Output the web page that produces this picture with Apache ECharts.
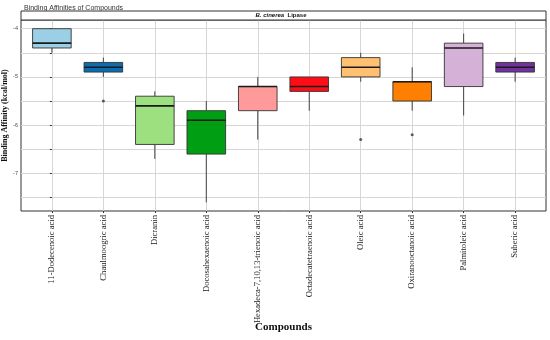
<!DOCTYPE html>
<html><head><meta charset="utf-8">
<script src="https://cdn.jsdelivr.net/npm/echarts@6/dist/echarts.min.js"></script>
<style>html,body{margin:0;padding:0;background:#fff}#c{width:550px;height:340px}</style>
</head><body><div id="c"></div>
<script>
const categories = ['11-Dodecenoic acid','Chaulmoogric acid','Dicranin','Docosahexaenoic acid','Hexadeca-7,10,13-trienoic acid','Octadecatetraenoic acid','Oleic acid','Oxiranooctanoic acid','Palmitoleic acid','Suberic acid'];
const lowerWhisker = [-4.5,-5.0,-6.7,-7.6,-6.3,-5.7,-5.1,-5.7,-5.8,-5.1];
const q1 =           [-4.4,-4.9,-6.4,-6.6,-5.7,-5.3,-5.0,-5.5,-5.2,-4.9];
const median =       [-4.3,-4.8,-5.6,-5.9,-5.2,-5.2,-4.8,-5.1,-4.4,-4.8];
const q3 =           [-4.0,-4.7,-5.4,-5.7,-5.2,-5.0,-4.6,-5.1,-4.3,-4.7];
const upperWhisker = [-4.0,-4.6,-5.3,-5.5,-5.0,-5.0,-4.5,-4.8,-4.1,-4.6];
const outlierCategory = ['Chaulmoogric acid','Oleic acid','Oxiranooctanoic acid'];
const outlierValue = [-5.5,-6.3,-6.2];
const fillColors = ['#9ACFE6','#0B6DB0','#9DE07F','#009E12','#FF9A9A','#FF0D17','#FFC171','#FF8000','#D5B1D8','#7331A0'];
const yTickLabels = [-7,-6,-5,-4];
const yGridValues = [-7.5,-7,-6.5,-6,-5.5,-5,-4.5,-4];

const xPositions = categories.map((c, i) => i);
const boxData = categories.map((c, i) => [i, lowerWhisker[i], q1[i], median[i], q3[i], upperWhisker[i]]);
const outlierData = outlierCategory.map((c, k) => [categories.indexOf(c), outlierValue[k]]);

const chart = echarts.init(document.getElementById('c'), null, {renderer: 'canvas'});
chart.setOption({
  animation: false,
  backgroundColor: '#ffffff',
  title: {
    text: 'Binding Affinities of Compounds', left: 19, top: 0,
    textStyle: {fontSize: 7, fontWeight: 'normal', fontFamily: 'Liberation Sans', color: '#333'}
  },
  grid: {left: 21, right: 4, top: 20, bottom: 129, show: true, borderColor: '#333', borderWidth: 1, backgroundColor: '#fff',
    containLabel: false, outerBoundsMode: 'none'},
  xAxis: {
    type: 'value', min: -0.6, max: 9.6,
    name: 'Compounds', nameLocation: 'middle', nameGap: 111, nameMoveOverlap: false,
    nameTextStyle: {fontFamily: 'Liberation Serif', fontWeight: 'bold', fontSize: 11, color: '#111'},
    axisLine: {show: false},
    axisTick: {show: true, customValues: xPositions, length: 2, lineStyle: {color: '#333'}},
    axisLabel: {customValues: xPositions, rotate: 90, margin: 4, fontFamily: 'Liberation Serif', fontSize: 8.6, color: '#1a1a1a',
      formatter: v => categories[Math.round(v)]},
    splitLine: {show: true, lineStyle: {color: '#d6d6d6', width: 1}}
  },
  yAxis: {
    type: 'value', min: -7.78, max: -3.82,
    name: 'Binding Affinity (kcal/mol)', nameLocation: 'middle', nameGap: 12, nameMoveOverlap: false,
    nameTextStyle: {fontFamily: 'Liberation Serif', fontWeight: 'bold', fontSize: 8, color: '#111'},
    axisLine: {show: false},
    axisTick: {show: true, customValues: yGridValues, length: 2, lineStyle: {color: '#333'}},
    axisLabel: {customValues: yTickLabels, margin: 3, fontSize: 5.5, color: '#4d4d4d', fontFamily: 'Liberation Sans'},
    splitLine: {show: true, lineStyle: {color: '#d6d6d6', width: 1}}
  },
  graphic: [
    {type: 'rect', shape: {x: 21, y: 11, width: 525, height: 9}, style: {fill: '#fff', stroke: '#333', lineWidth: 1}, z: 100},
    {type: 'text', x: 281, y: 15.5, z: 101,
      style: {text: '{i|B. cinerea} {b|Lipase}', align: 'center', verticalAlign: 'middle',
        rich: {i: {fontStyle: 'italic', fontWeight: 'bold', fontSize: 6, fontFamily: 'Liberation Sans', fill: '#111'},
               b: {fontWeight: 'bold', fontSize: 6, fontFamily: 'Liberation Sans', fill: '#111'}}}}
  ],
  series: [
    {
      type: 'custom',
      data: boxData,
      encode: {x: 0, y: [1, 2, 3, 4, 5]},
      renderItem: function (params, api) {
        const idx = params.dataIndex;
        const i = api.value(0);
        const lo = api.coord([i, api.value(1)]);
        const b1 = api.coord([i, api.value(2)]);
        const md = api.coord([i, api.value(3)]);
        const b3 = api.coord([i, api.value(4)]);
        const hi = api.coord([i, api.value(5)]);
        const half = api.size([0.75, 0])[0] / 2;
        const wStyle = {stroke: '#444', lineWidth: 1};
        return {type: 'group', children: [
          {type: 'line', shape: {x1: lo[0], y1: lo[1], x2: b1[0], y2: b1[1]}, style: wStyle},
          {type: 'line', shape: {x1: b3[0], y1: b3[1], x2: hi[0], y2: hi[1]}, style: wStyle},
          {type: 'rect', shape: {x: b1[0] - half, y: b3[1], width: 2 * half, height: b1[1] - b3[1]},
            style: {fill: fillColors[idx], stroke: '#333', lineWidth: 0.9}},
          {type: 'line', shape: {x1: md[0] - half, y1: md[1], x2: md[0] + half, y2: md[1]},
            style: {stroke: '#1a1a1a', lineWidth: 1.6}}
        ]};
      }
    },
    {
      type: 'scatter', data: outlierData, symbol: 'circle', symbolSize: 3,
      itemStyle: {color: '#333'}
    }
  ]
});
</script>
</body></html>
